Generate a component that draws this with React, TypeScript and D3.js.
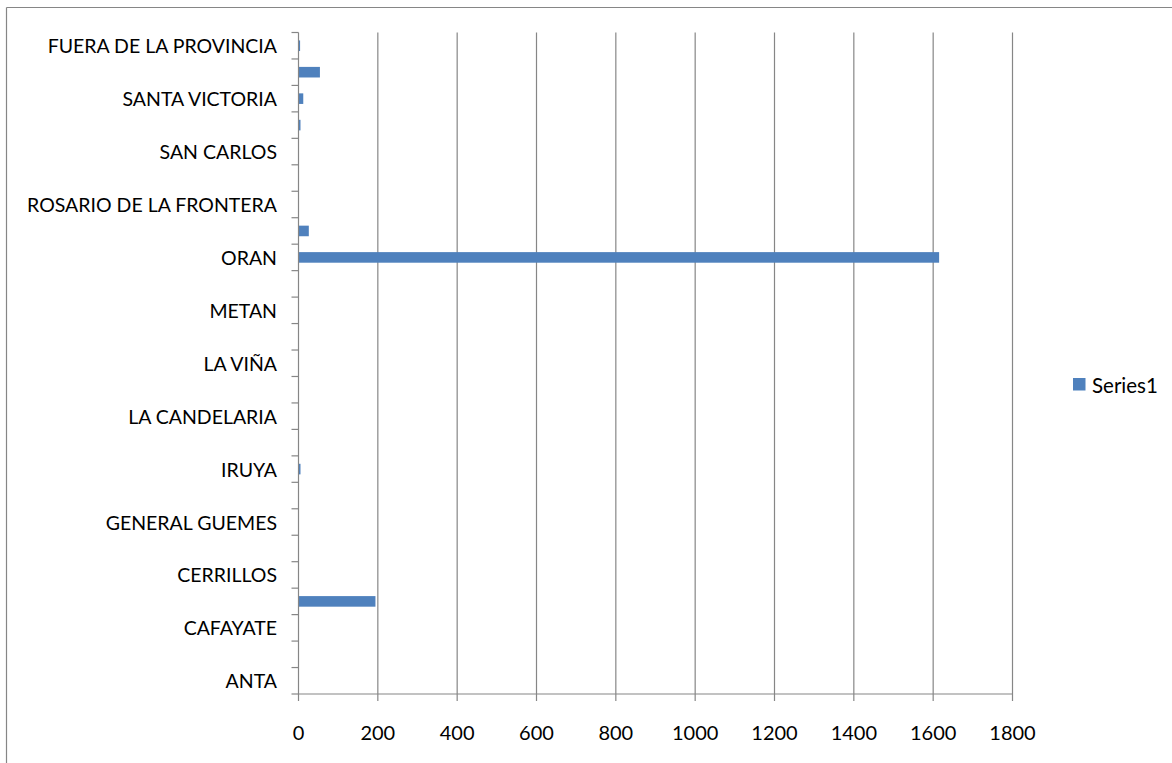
import React from "react";
import * as d3 from "d3";

const categories: string[] = [
  "ANTA", "CACHI", "CAFAYATE", "CAPITAL", "CERRILLOS", "CHICOANA",
  "GENERAL GUEMES", "GENERAL JOSE DE SAN MARTIN", "IRUYA", "LA CALDERA",
  "LA CANDELARIA", "LA POMA", "LA VIÑA", "LOS ANDES", "METAN", "MOLINOS",
  "ORAN", "RIVADAVIA", "ROSARIO DE LA FRONTERA", "ROSARIO DE LERMA",
  "SAN CARLOS", "SAN MARTIN", "SANTA VICTORIA", "OTROS", "FUERA DE LA PROVINCIA",
];
const series1: number[] = [
  0, 0, 0, 194, 0, 0,
  1, 0, 5, 0,
  0, 0, 0, 0, 0, 0,
  1615, 26, 0, 0,
  0, 5, 12, 54, 4,
];
const xTicks: number[] = [0, 200, 400, 600, 800, 1000, 1200, 1400, 1600, 1800];
const seriesName = "Series1";

const W = 1172;
const H = 763;
const left = 298.5;
const right = 1012.5;
const top = 32.5;
const bottom = 694;
const FONT = "Lato, 'Open Sans', sans-serif";
const GRID = "#868686";
const BAR = "#4F81BD";

export default function App() {
  const x = d3.scaleLinear().domain([0, 1800]).range([left, right]);
  const y = d3
    .scaleBand<string>()
    .domain(categories.slice().reverse())
    .range([top, bottom])
    .paddingInner(0.6)
    .paddingOuter(0.3);
  const boundaries = d3.range(categories.length + 1).map((i) => bottom - i * ((bottom - top) / categories.length));

  return (
    <div style={{ position: "absolute", left: 0, top: 0 }}>
      <svg width={W} height={H} style={{ display: "block", background: "#fff" }}>
        <rect x={0} y={0} width={W} height={H} fill="#fff" />
        <line x1={6.5} y1={7.5} x2={W} y2={7.5} stroke={GRID} strokeWidth={1.2} />
        <line x1={6.5} y1={7.5} x2={6.5} y2={H} stroke={GRID} strokeWidth={1.2} />

        {xTicks.slice(1).map((t) => (
          <line key={"g" + t} x1={x(t)} x2={x(t)} y1={top} y2={bottom} stroke={GRID} strokeWidth={1.2} />
        ))}

        {categories.map((c, i) => (
          <rect
            key={"b" + c}
            x={x(0)}
            y={y(c)!}
            width={Math.max(0, x(series1[i]) - x(0))}
            height={y.bandwidth()}
            fill={BAR}
          />
        ))}

        <line x1={left} x2={left} y1={top} y2={bottom} stroke={GRID} strokeWidth={1.2} />
        {boundaries.map((b, i) => (
          <line key={"yt" + i} x1={left - 7} x2={left} y1={b} y2={b} stroke={GRID} strokeWidth={1.2} />
        ))}
        {categories.map((c, i) =>
          i % 2 === 0 ? (
            <text
              key={"yl" + c}
              x={277}
              y={y(c)! + y.bandwidth() / 2}
              textAnchor="end"
              dominantBaseline="central"
              fontFamily={FONT}
              fontSize={19.5}
              fill="#000"
            >
              {c}
            </text>
          ) : null
        )}

        <line x1={left} x2={right} y1={bottom} y2={bottom} stroke={GRID} strokeWidth={1.2} />
        {xTicks.map((t) => (
          <line key={"xt" + t} x1={x(t)} x2={x(t)} y1={bottom} y2={bottom + 7} stroke={GRID} strokeWidth={1.2} />
        ))}
        {xTicks.map((t) => (
          <text
            key={"xl" + t}
            x={x(t)}
            y={732}
            textAnchor="middle"
            dominantBaseline="central"
            fontFamily={FONT}
            fontSize={20}
            fill="#000"
          >
            {t}
          </text>
        ))}

        <rect x={1073} y={378} width={12.5} height={12.5} fill={BAR} />
        <text x={1092} y={385} dominantBaseline="central" fontFamily={FONT} fontSize={20.5} fill="#000">
          {seriesName}
        </text>
      </svg>
    </div>
  );
}
